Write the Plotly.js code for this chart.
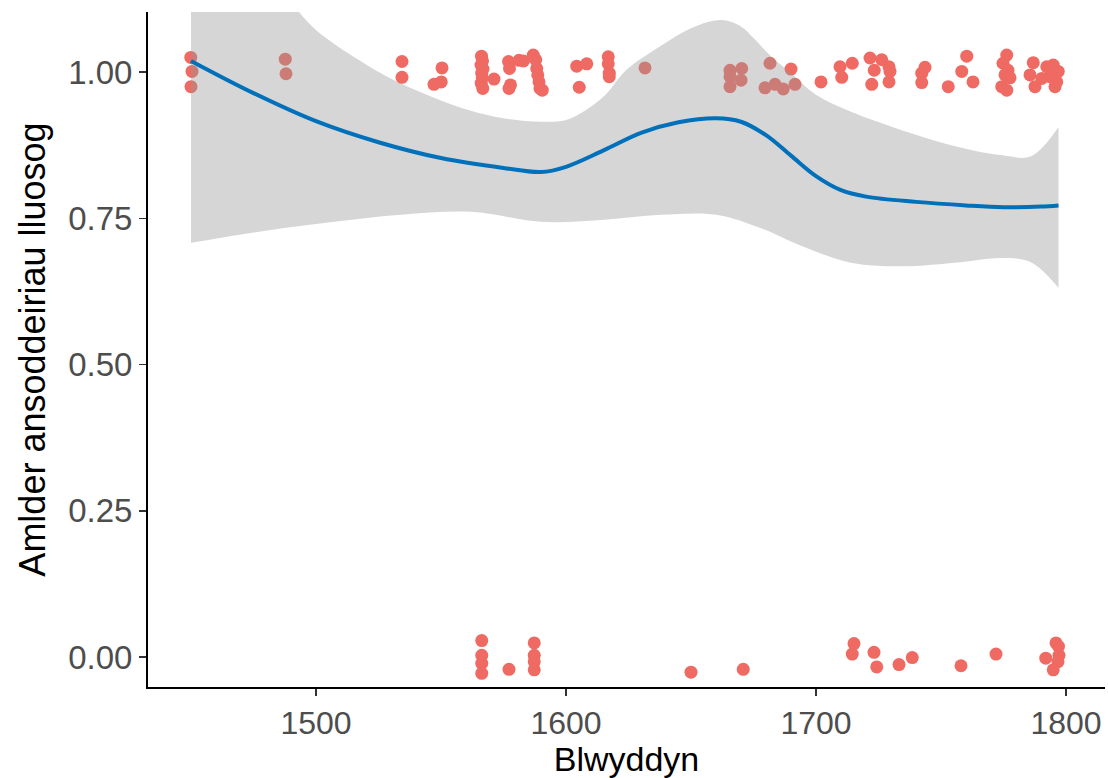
<!DOCTYPE html>
<html>
<head>
<meta charset="utf-8">
<script src="https://cdn.plot.ly/plotly-3.0.1.min.js"></script>
<style>html,body{margin:0;padding:0;background:#fff;}#chart{width:1108px;height:778px;}</style>
</head>
<body>
<div id="chart"></div>
<script>
// Jittered observations (year, proportion)
const pointYears = [
  1449.9,1450.4,1450.0, 1487.7,1488.0, 1534.4,1534.4, 1550.4,1550.1,1547.2,
  1566.2,1566.6,1566.0,1566.8,1566.3,1566.5,1566.1,1566.7, 1571.2,
  1577.0,1577.4,1577.8,1577.2, 1581.2,1583.0,1586.9,1587.9,1588.3,1588.7,1589.2,1589.6,1590.5,
  1604.3,1608.3,1605.3, 1616.9,1616.9,1617.3,1617.3, 1631.6,
  1665.6,1665.6,1665.6,1670.3,1670.0,
  1681.6,1679.6,1683.6,1686.9,1690.0,1691.6, 1702.0,
  1709.6,1710.3,1714.5, 1721.6,1723.3,1722.3,1726.3,1729.2,1729.6,1729.2,
  1743.6,1742.3,1742.3, 1752.9, 1760.3,1758.3,1762.8,
  1776.3,1774.8,1776.8,1775.6,1777.6,1774.3,1776.3,
  1786.9,1785.6,1787.6,1790.3,1794.9,1796.9,1795.6,1793.6,1792.3,1796.3,
  1566.3,1566.3,1566.3,1566.3, 1577.2, 1587.3,1587.3,1587.3,1587.3,
  1650.0,1670.9, 1715.2,1714.5,1723.2,1724.3,1733.2,1738.5,1758.0,1772.0,1791.9,
  1796.0,1797.0,1797.2,1796.8,1794.9
];
const pointValues = [
  1.025,1.001,0.975, 1.022,0.997, 1.018,0.991, 1.007,0.983,0.979,
  1.027,1.019,1.012,1.005,0.998,0.990,0.981,0.972, 0.988,
  1.018,1.006,0.978,0.972, 1.020,1.019,1.029,1.021,1.006,0.995,0.983,0.972,0.969,
  1.010,1.014,0.974, 1.026,1.014,0.998,0.992, 1.007,
  1.003,0.992,0.975,1.006,0.986,
  1.015,0.973,0.979,0.971,1.005,0.979, 0.983,
  1.009,0.991,1.015, 1.024,1.003,0.979,1.021,1.009,1.001,0.983,
  1.008,0.998,0.982, 0.975, 1.027,1.001,0.983,
  1.029,1.015,1.003,0.995,0.990,0.975,0.969,
  1.016,0.995,0.975,0.989,1.012,1.001,0.975,0.992,1.009,0.983,
  0.028,0.003,-0.011,-0.028, -0.021, 0.024,0.003,-0.008,-0.022,
  -0.026,-0.021, 0.023,0.005,0.008,-0.017,-0.013,-0.001,-0.015,0.005,-0.002,
  0.024,0.018,0.003,-0.008,-0.022
];

// Smoothed fit and confidence band
const fitYears  = [1450,1475,1500,1525,1550,1575,1590,1600,1615,1630,1645,1660,1670,1680,1690,1700,1710,1720,1740,1760,1775,1790,1797];
const fitValues = [1.019,0.964,0.916,0.880,0.853,0.836,0.829,0.838,0.866,0.896,0.914,0.921,0.915,0.892,0.857,0.822,0.798,0.787,0.778,0.772,0.769,0.770,0.772];

const bandYears = [1450,1475,1490,1500,1526,1540,1561,1575,1590,1600,1608,1616,1624,1638,1650,1662,1670,1675,1682,1690,1700,1714,1734,1754,1774,1786,1797];
const bandUpper = [1.33,1.21,1.12,1.072,0.998,0.969,0.935,0.921,0.915,0.918,0.935,0.962,1.003,1.045,1.075,1.089,1.078,1.058,1.027,0.998,0.961,0.932,0.901,0.875,0.858,0.856,0.906];
const bandLowerYears = [1450,1474,1500,1534,1562,1590,1614,1638,1660,1678,1694,1714,1734,1758,1774,1786,1797];
const bandLower = [0.708,0.725,0.740,0.756,0.761,0.744,0.747,0.756,0.756,0.733,0.703,0.674,0.668,0.675,0.682,0.675,0.631];

const xTicks = [1500,1600,1700,1800];
const yTicks = [0,0.25,0.5,0.75,1];
const yTickText = ['0.00','0.25','0.50','0.75','1.00'];

const traces = [
  {x: pointYears, y: pointValues, type:'scatter', mode:'markers',
   marker:{color:'#EF6A62', size:13, line:{width:0}}, hoverinfo:'skip', showlegend:false},
  {x: bandLowerYears, y: bandLower, type:'scatter', mode:'lines',
   line:{width:0, shape:'spline', smoothing:1}, hoverinfo:'skip', showlegend:false},
  {x: bandYears, y: bandUpper, type:'scatter', mode:'lines', fill:'tonexty',
   fillcolor:'rgba(153,153,153,0.4)', line:{width:0, shape:'spline', smoothing:1}, hoverinfo:'skip', showlegend:false},
  {x: fitYears, y: fitValues, type:'scatter', mode:'lines',
   line:{color:'#0070BB', width:4, shape:'spline', smoothing:1}, hoverinfo:'skip', showlegend:false}
];

const font = 'Liberation Sans, Arial, sans-serif';
const layout = {
  width:1108, height:778,
  margin:{l:148, r:3, t:12, b:91},
  paper_bgcolor:'#fff', plot_bgcolor:'#fff',
  showlegend:false,
  font:{family:font},
  xaxis:{
    range:[1432.8,1815.6], tickvals:xTicks, ticktext:xTicks.map(String),
    showgrid:false, zeroline:false, showline:true, linecolor:'#000', linewidth:2,
    ticks:'outside', ticklen:7, tickwidth:1.5, tickcolor:'#333',
    tickfont:{family:font, size:32, color:'#4D4D4D'},
    title:{text:'Blwyddyn', font:{family:font, size:34, color:'#000'}, standoff:6}
  },
  yaxis:{
    range:[-0.0513,1.1026], tickvals:yTicks, ticktext:yTickText,
    showgrid:false, zeroline:false, showline:true, linecolor:'#000', linewidth:2,
    ticks:'outside', ticklen:7, tickwidth:1.5, tickcolor:'#333',
    tickfont:{family:font, size:33, color:'#4D4D4D'},
    title:{text:'Amlder ansoddeiriau lluosog', font:{family:font, size:36, color:'#000'}, standoff:12}
  }
};

Plotly.newPlot('chart', traces, layout, {displayModeBar:false, staticPlot:true});
</script>
</body>
</html>
